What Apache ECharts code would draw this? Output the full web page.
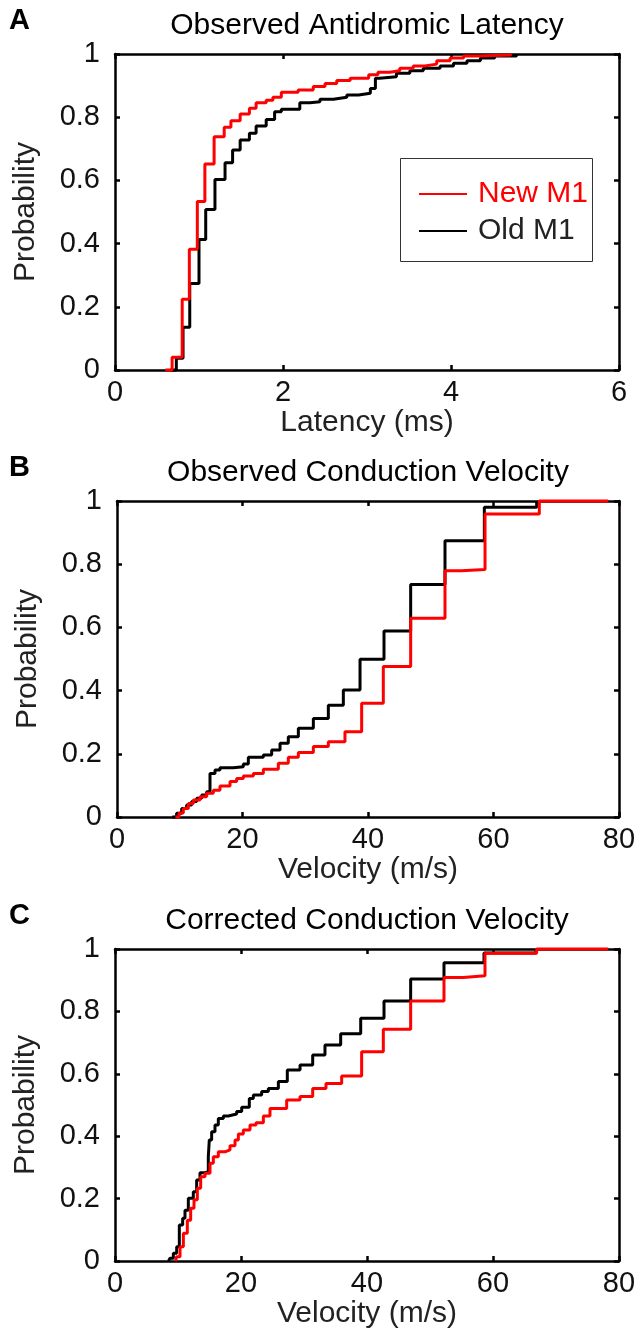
<!DOCTYPE html>
<html>
<head>
<meta charset="utf-8">
<script src="https://cdn.jsdelivr.net/npm/echarts@6/dist/echarts.min.js"></script>
<style>
  html, body { margin: 0; padding: 0; background: #fff; }
  #chart { width: 640px; height: 1335px; }
</style>
</head>
<body>
<div id="chart"></div>
<script>
// panel A: observed antidromic latency (ms)
var latencyNewX = [0.60, 0.68, 0.80, 0.885, 0.98, 1.07, 1.18, 1.30, 1.38, 1.49, 1.60, 1.68, 1.80, 1.88, 1.98, 2.18, 2.36, 2.50, 2.64, 2.80, 3.02, 3.13, 3.27, 3.39, 3.55, 3.69, 3.83, 3.99, 4.15, 4.31, 4.71];
var latencyNewY = [0, 0.04, 0.224, 0.382, 0.533, 0.652, 0.738, 0.768, 0.789, 0.81, 0.828, 0.846, 0.854, 0.863, 0.879, 0.886, 0.897, 0.907, 0.916, 0.923, 0.934, 0.942, 0.947, 0.955, 0.962, 0.968, 0.979, 0.987, 0.994, 0.997, 1];
var latencyOldX = [0.66, 0.73, 0.81, 0.89, 1.00, 1.08, 1.19, 1.31, 1.40, 1.49, 1.60, 1.68, 1.80, 1.90, 1.98, 2.20, 2.32, 2.44, 2.60, 2.76, 2.90, 3.04, 3.10, 3.15, 3.35, 3.51, 3.67, 3.87, 4.03, 4.19, 4.35, 4.52, 4.78];
var latencyOldY = [0, 0.037, 0.135, 0.274, 0.413, 0.508, 0.603, 0.656, 0.696, 0.728, 0.749, 0.772, 0.793, 0.817, 0.825, 0.846, 0.849, 0.857, 0.863, 0.870, 0.876, 0.891, 0.923, 0.928, 0.939, 0.947, 0.955, 0.962, 0.971, 0.979, 0.987, 0.994, 1];

// panel B: observed conduction velocity (m/s)
var observedNewX = [9.3, 9.9, 10.57, 11.37, 12.16, 13.23, 14.29, 15.35, 16.41, 18.01, 19.07, 20.13, 21.73, 23.32, 25.71, 27.30, 28.90, 31.29, 33.68, 36.33, 38.99, 42.44, 46.80, 52.27, 54.9, 58.65, 67.30, 78.30];
var observedNewY = [0, 0.013, 0.027, 0.043, 0.054, 0.064, 0.075, 0.085, 0.098, 0.112, 0.122, 0.130, 0.138, 0.151, 0.170, 0.189, 0.204, 0.223, 0.238, 0.270, 0.360, 0.476, 0.629, 0.779, 0.783, 0.959, 1, 1];
var observedOldX = [8.8, 9.5, 10.31, 11.10, 11.90, 12.70, 13.49, 14.29, 14.82, 15.62, 16.41, 18.54, 20.13, 20.93, 23.32, 24.65, 25.98, 27.30, 28.90, 31.29, 33.68, 36.07, 38.73, 42.55, 46.80, 52.27, 58.54, 66.88];
var observedOldY = [0, 0.012, 0.027, 0.038, 0.049, 0.059, 0.070, 0.080, 0.138, 0.149, 0.156, 0.159, 0.168, 0.189, 0.196, 0.212, 0.233, 0.254, 0.281, 0.312, 0.354, 0.402, 0.499, 0.589, 0.736, 0.874, 0.980, 1];

// panel C: corrected conduction velocity (m/s)
var correctedNewX = [9.6, 9.79, 10.32, 10.85, 11.48, 12.01, 12.54, 13.07, 13.60, 14.29, 15.08, 15.61, 16.40, 17.46, 18.25, 19.05, 19.58, 20.37, 21.43, 22.38, 23.55, 24.60, 27.25, 29.37, 31.38, 33.49, 35.98, 39.15, 42.59, 46.93, 52.22, 55.29, 58.73, 66.93, 78.30];
var correctedNewY = [0, 0.014, 0.046, 0.089, 0.131, 0.169, 0.196, 0.233, 0.270, 0.281, 0.313, 0.334, 0.350, 0.356, 0.369, 0.388, 0.407, 0.420, 0.436, 0.443, 0.465, 0.489, 0.516, 0.527, 0.553, 0.569, 0.593, 0.671, 0.743, 0.833, 0.909, 0.914, 0.986, 1, 1];
var correctedOldX = [8.5, 8.73, 9.26, 9.79, 10.21, 10.74, 11.11, 11.64, 12.43, 12.96, 13.49, 14.29, 14.81, 14.97, 15.34, 15.87, 16.40, 17.20, 17.99, 19.31, 20.11, 21.32, 21.96, 23.28, 24.34, 25.93, 27.35, 29.37, 31.38, 33.33, 35.82, 39.00, 42.70, 46.93, 52.22, 58.57, 66.83];
var correctedOldY = [0, 0.009, 0.025, 0.046, 0.115, 0.137, 0.163, 0.201, 0.222, 0.260, 0.283, 0.286, 0.334, 0.388, 0.414, 0.436, 0.457, 0.465, 0.471, 0.479, 0.493, 0.521, 0.532, 0.543, 0.553, 0.575, 0.612, 0.628, 0.660, 0.692, 0.728, 0.778, 0.833, 0.904, 0.956, 0.987, 1];

var panelLetters = ['A', 'B', 'C'];
var panelTitles = ['Observed Antidromic Latency', 'Observed Conduction Velocity', 'Corrected Conduction Velocity'];
var xNames = ['Latency (ms)', 'Velocity (m/s)', 'Velocity (m/s)'];
var xMax = [6, 80, 80];
var xStep = [2, 20, 20];

var FONT = "'Liberation Sans', Arial, Helvetica, sans-serif";

var grids = [
    {left: 115, top: 54, width: 504, height: 316},
    {left: 117, top: 501, width: 502, height: 316},
    {left: 115, top: 949, width: 504, height: 312}
];

function pairs(xs, ys) {
    return xs.map(function (x, i) { return [x, ys[i]]; });
}

var xAxes = [];
var yAxes = [];
var graphics = [];
grids.forEach(function (g, i) {
    var line = {show: true, onZero: false, lineStyle: {color: '#000', width: 2.5}};
    var tick = {show: true, inside: true, length: 5, lineStyle: {color: '#000', width: 2.5}};
    xAxes.push({
        gridIndex: i, type: 'value', position: 'bottom', min: 0, max: xMax[i], interval: xStep[i],
        axisLine: line, axisTick: tick, splitLine: {show: false},
        axisLabel: {margin: 8, fontSize: 29, fontFamily: FONT, color: '#111'},
        name: xNames[i], nameLocation: 'middle', nameGap: 32,
        nameTextStyle: {fontSize: 30, fontFamily: FONT, color: '#222'}
    });
    xAxes.push({
        gridIndex: i, type: 'value', position: 'top', min: 0, max: xMax[i], interval: xStep[i],
        axisLine: line, axisTick: tick, splitLine: {show: false}, axisLabel: {show: false}
    });
    yAxes.push({
        gridIndex: i, type: 'value', position: 'left', min: 0, max: 1, interval: 0.2,
        axisLine: line, axisTick: tick, splitLine: {show: false},
        axisLabel: {margin: 15, fontSize: 29, fontFamily: FONT, color: '#111'},
        name: 'Probability', nameLocation: 'middle', nameGap: 74,
        nameTextStyle: {fontSize: 30, fontFamily: FONT, color: '#222'}
    });
    yAxes.push({
        gridIndex: i, type: 'value', position: 'right', min: 0, max: 1, interval: 0.2,
        axisLine: line, axisTick: tick, splitLine: {show: false}, axisLabel: {show: false}
    });
    graphics.push({
        type: 'text', x: 9, y: g.top - 33,
        style: {text: panelLetters[i], font: 'bold 29px ' + FONT, fill: '#000',
                align: 'left', verticalAlign: 'middle', textAlign: 'left', textVerticalAlign: 'middle'}
    });
    graphics.push({
        type: 'text', x: g.left + g.width / 2, y: g.top - 28,
        style: {text: panelTitles[i], font: '30px ' + FONT, fill: '#000',
                align: 'center', verticalAlign: 'middle', textAlign: 'center', textVerticalAlign: 'middle'}
    });
});

// legend frame in panel A
graphics.push({
    type: 'rect', shape: {x: 400.5, y: 158.5, width: 192, height: 103},
    style: {fill: '#fff', stroke: '#333', lineWidth: 1}, z: 5
});

function stepSeries(name, color, xs, ys, i) {
    return {
        name: name, type: 'line', step: 'end', symbol: 'none', clip: false,
        xAxisIndex: 2 * i, yAxisIndex: 2 * i,
        lineStyle: {color: color, width: 3}, itemStyle: {color: color},
        data: pairs(xs, ys), z: 3
    };
}

var series = [
    stepSeries('Old M1', '#000000', latencyOldX, latencyOldY, 0),
    stepSeries('New M1', '#ff0000', latencyNewX, latencyNewY, 0),
    stepSeries('Old M1', '#000000', observedOldX, observedOldY, 1),
    stepSeries('New M1', '#ff0000', observedNewX, observedNewY, 1),
    stepSeries('Old M1', '#000000', correctedOldX, correctedOldY, 2),
    stepSeries('New M1', '#ff0000', correctedNewX, correctedNewY, 2)
];

var myChart = echarts.init(document.getElementById('chart'), null, {renderer: 'canvas'});
var option = {
    backgroundColor: '#fff',
    animation: false,
    grid: grids,
    xAxis: xAxes,
    yAxis: yAxes,
    legend: {
        orient: 'vertical', left: 419, top: 179, padding: 0, z: 10,
        itemWidth: 48, itemHeight: 2, itemGap: 7,
        icon: 'rect',
        textStyle: {fontSize: 30, fontFamily: FONT, padding: [0, 0, 0, 6]},
        data: [
            {name: 'New M1', itemStyle: {color: '#ff0000'}, textStyle: {color: '#ff0000'}},
            {name: 'Old M1', itemStyle: {color: '#000000'}, textStyle: {color: '#222222'}}
        ]
    },
    graphic: graphics,
    series: series
};
myChart.setOption(option);
window.addEventListener("resize", () => {
    myChart.resize();
});
</script>
</body>
</html>
